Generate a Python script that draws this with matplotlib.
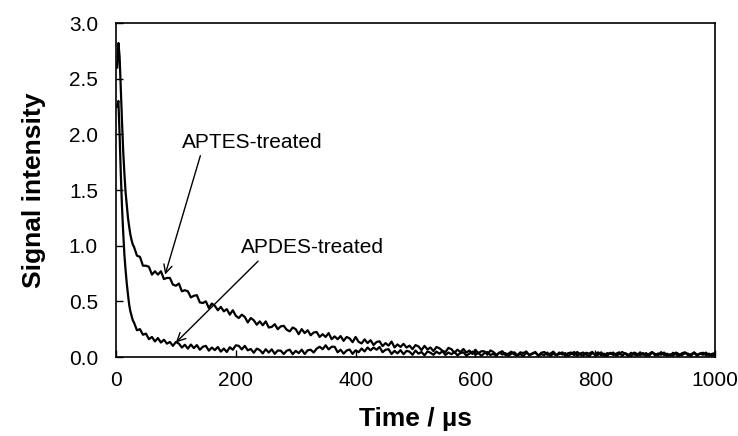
import numpy as np
import matplotlib
matplotlib.use("Agg")
import matplotlib.pyplot as plt

plt.rcParams['font.family'] = ['Liberation Sans', 'DejaVu Sans']

# time axis (µs)
t_early = [2, 4, 6, 8, 10, 12, 14, 16, 18, 20, 22, 24, 26, 28]
t_main = list(np.arange(30, 1001, 5))
time = t_early + t_main

aptes_early = [2.60, 2.82, 2.70, 2.40, 2.12, 1.85, 1.65, 1.48, 1.36, 1.25, 1.17, 1.10, 1.05, 1.01]
aptes_main = [
    0.99, 0.91, 0.90, 0.82, 0.82, 0.81, 0.74, 0.77, 0.74, 0.77,
    0.70, 0.71, 0.71, 0.65, 0.64, 0.66, 0.59, 0.60, 0.59, 0.535,
    0.55, 0.555, 0.49, 0.485, 0.50, 0.44, 0.48, 0.46, 0.42, 0.45,
    0.41, 0.43, 0.38, 0.42, 0.37, 0.35, 0.38, 0.36, 0.31, 0.35,
    0.33, 0.29, 0.32, 0.285, 0.32, 0.265, 0.27, 0.295, 0.25, 0.275,
    0.28, 0.245, 0.23, 0.265, 0.25, 0.205, 0.25, 0.215, 0.24, 0.195,
    0.22, 0.225, 0.18, 0.205, 0.18, 0.215, 0.16, 0.185, 0.16, 0.188,
    0.145, 0.18, 0.167, 0.133, 0.18, 0.136, 0.122, 0.158, 0.125, 0.151,
    0.108, 0.135, 0.141, 0.098, 0.125, 0.102, 0.139, 0.086, 0.113, 0.09,
    0.118, 0.085, 0.102, 0.07, 0.107, 0.095, 0.062, 0.10, 0.068, 0.085,
    0.053, 0.09, 0.078, 0.056, 0.044, 0.082, 0.07, 0.038, 0.066, 0.044,
    0.072, 0.04, 0.058, 0.027, 0.065, 0.034, 0.052, 0.051, 0.02, 0.059,
    0.045, 0.020, 0.038, 0.052, 0.018, 0.030, 0.048, 0.022, 0.015, 0.042,
    0.035, 0.050, 0.015, 0.028, 0.040, 0.012, 0.038, 0.045, 0.020, 0.030,
    0.048, 0.018, 0.025, 0.042, 0.010, 0.035, 0.040, 0.015, 0.045, 0.022,
    0.012, 0.038, 0.030, 0.046, 0.015, 0.020, 0.042, 0.010, 0.035, 0.028,
    0.040, 0.012, 0.025, 0.045, 0.030, 0.010, 0.038, 0.022, 0.015, 0.042,
    0.020, 0.035, 0.010, 0.040, 0.028, 0.015, 0.044, 0.018, 0.030, 0.012,
    0.038, 0.022, 0.010, 0.035, 0.042, 0.015, 0.025, 0.038, 0.010, 0.030,
    0.020, 0.040, 0.012, 0.028, 0.035,
]
aptes = aptes_early + aptes_main

apdes_early = [2.25, 2.30, 2.00, 1.65, 1.35, 1.12, 0.92, 0.78, 0.66, 0.56, 0.47, 0.41, 0.37, 0.33]
apdes_main = [
    0.31, 0.24, 0.25, 0.20, 0.21, 0.16, 0.18, 0.14, 0.17, 0.13,
    0.155, 0.12, 0.135, 0.10, 0.135, 0.12, 0.085, 0.11, 0.075, 0.112,
    0.08, 0.107, 0.065, 0.092, 0.10, 0.057, 0.085, 0.062, 0.09, 0.048,
    0.076, 0.045, 0.088, 0.065, 0.105, 0.10, 0.068, 0.10, 0.06, 0.072,
    0.038, 0.075, 0.063, 0.032, 0.07, 0.04, 0.069, 0.028, 0.058, 0.057,
    0.027, 0.056, 0.066, 0.025, 0.055, 0.035, 0.066, 0.027, 0.06, 0.065,
    0.04, 0.075, 0.092, 0.07, 0.105, 0.068, 0.092, 0.092, 0.042, 0.065,
    0.03, 0.058, 0.067, 0.028, 0.06, 0.043, 0.076, 0.05, 0.085, 0.06,
    0.085, 0.065, 0.09, 0.043, 0.065, 0.07, 0.027, 0.055, 0.033, 0.062,
    0.025, 0.055, 0.048, 0.020, 0.058, 0.030, 0.045, 0.015, 0.050, 0.038,
    0.020, 0.048, 0.030, 0.052, 0.018, 0.040, 0.025, 0.046, 0.015, 0.035,
    0.042, 0.012, 0.030, 0.048, 0.020, 0.038, 0.010, 0.035, 0.045, 0.018,
    0.028, 0.010, 0.040, 0.022, 0.035, 0.008, 0.030, 0.042, 0.015, 0.025,
    0.010, 0.038, 0.020, 0.032, 0.045, 0.012, 0.025, 0.018, 0.040, 0.008,
    0.030, 0.015, 0.040, 0.022, 0.035, 0.010, 0.028, 0.045, 0.012, 0.032,
    0.040, 0.020, 0.008, 0.035, 0.025, 0.042, 0.015, 0.030, 0.010, 0.038,
    0.018, 0.030, 0.042, 0.010, 0.035, 0.022, 0.008, 0.040, 0.028, 0.015,
    0.035, 0.010, 0.028, 0.045, 0.015, 0.032, 0.020, 0.040, 0.010, 0.025,
    0.012, 0.040, 0.025, 0.018, 0.035, 0.030, 0.008, 0.042, 0.020, 0.032,
    0.038, 0.015, 0.030, 0.010, 0.028,
]
apdes = apdes_early + apdes_main

x_ticks = [0, 200, 400, 600, 800, 1000]
y_ticks = [0.0, 0.5, 1.0, 1.5, 2.0, 2.5, 3.0]

fig = plt.figure(figsize=(7.38, 4.36), dpi=100)
ax = fig.add_axes([116/738, 1-357/436, (715-116)/738, (357-23)/436])

ax.plot(time, aptes, color='black', lw=1.6)
ax.plot(time, apdes, color='black', lw=1.6)

ax.set_xlim(0, 1000)
ax.set_ylim(0, 3.0)
ax.set_xticks(x_ticks)
ax.set_xticklabels([str(v) for v in x_ticks])
ax.set_yticks(y_ticks)
ax.set_yticklabels([f"{v:.1f}" for v in y_ticks])
ax.tick_params(axis='both', direction='in', length=5, width=1, labelsize=15)
ax.tick_params(axis='y', pad=13)
ax.tick_params(axis='x', pad=10)
for s in ax.spines.values():
    s.set_linewidth(1.2)

ax.set_xlabel("Time / µs", fontsize=19, fontweight='bold', labelpad=12)
ax.set_ylabel("Signal intensity", fontsize=19, fontweight='bold', labelpad=16)

ax.annotate("APTES-treated", xy=(82, 0.74), xytext=(110, 1.93), fontsize=15,
            va='center', ha='left',
            arrowprops=dict(arrowstyle='->', color='black', lw=1, shrinkA=1, shrinkB=0,
                            relpos=(0.14, 0.0)))
ax.annotate("APDES-treated", xy=(100, 0.13), xytext=(209, 0.98), fontsize=15,
            va='center', ha='left',
            arrowprops=dict(arrowstyle='->', color='black', lw=1, shrinkA=1, shrinkB=0,
                            relpos=(0.145, 0.0)))

fig.savefig("out.png", dpi=100)
